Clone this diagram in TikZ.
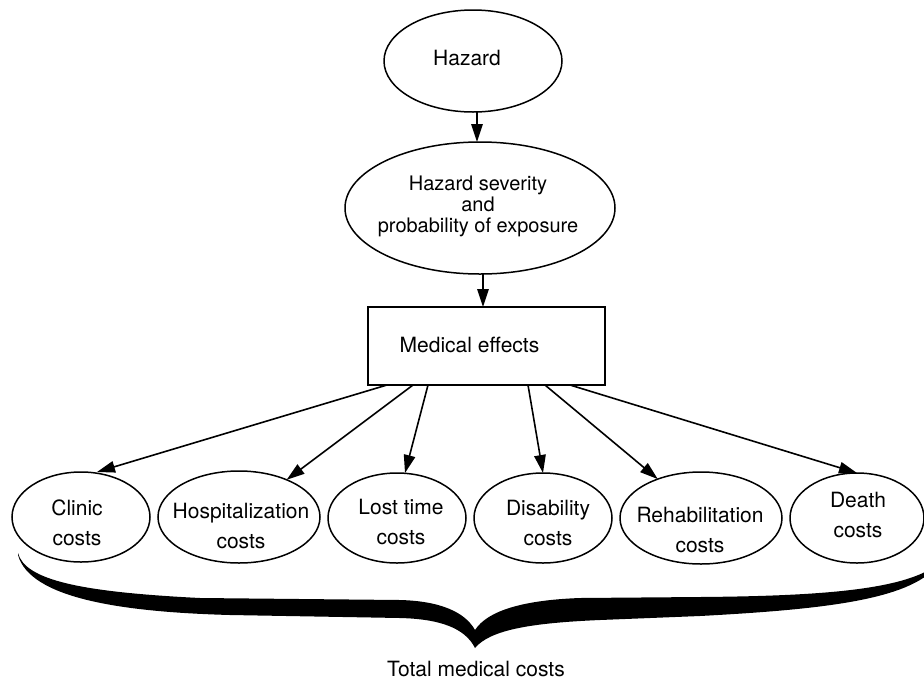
\documentclass[tikz,border=0pt]{standalone}
\usepackage{fontspec}
\setmainfont{TeX Gyre Heros}
\usetikzlibrary{arrows.meta,shapes.geometric}
\begin{document}
\begin{tikzpicture}[x=1pt,y=-1pt,
  oval/.style={draw, ellipse, line width=1.5pt, inner sep=0pt, outer sep=0pt},
  lbl/.style={align=center, inner sep=0pt, font=\fontsize{21}{30.5}\selectfont},
  conn/.style={line width=1.6pt, -{Triangle[length=18pt,width=11.5pt]}},
  costsmall/.style={oval, minimum width=138pt, minimum height=90pt},
  costwide/.style={oval, minimum width=162pt, minimum height=92pt}
]
\useasboundingbox (0,0) rectangle (924,681);

% top chain
\node[oval, minimum width=178pt, minimum height=102pt] (hazard) at (473,61) {};
\node[lbl] (hazardT) at (467,57.5) {Hazard};
\node[oval, minimum width=270pt, minimum height=132pt] (sev) at (480,208) {};
\node[lbl, font=\fontsize{20}{21}\selectfont] (sevT) at (478,206) {Hazard severity\\and\\probability of exposure};
\node[draw, line width=2pt, minimum width=237pt, minimum height=78pt, inner sep=0pt, outer sep=0pt] (box) at (486.5,346) {};
\node[lbl] (boxT) at (469.5,344.5) {Medical effects};

% cost ellipses
\node[costsmall] (clinic) at (81,517) {};
\node[costwide]  (hosp)   at (239,517) {};
\node[costsmall] (lost)   at (397,518) {};
\node[costsmall] (disab)  at (543,518) {};
\node[costwide]  (rehab)  at (701,518) {};
\node[costsmall, minimum width=134pt] (death) at (857,518) {};

\node[lbl] (clinicT) at (77,523) {Clinic\\costs};
\node[lbl] (hospT)   at (241,526) {Hospitalization\\costs};
\node[lbl] (lostT)   at (401,522) {Lost time\\costs};
\node[lbl] (disabT)  at (548,523) {Disability\\costs};
\node[lbl] (rehabT)  at (700,530) {Rehabilitation\\costs};
\node[lbl] (deathT)  at (858,515) {Death\\costs};

% connectors
\draw[conn] ([xshift=4pt]hazard.south) -- ([xshift=4pt]hazard.south |- sev.north);
\draw[conn] ([xshift=3pt]sev.south) -- ([xshift=3pt]sev.south |- box.north);
\draw[conn] ([xshift=-99.5pt]box.south) -- ([xshift=16pt]clinic.north);
\draw[conn] ([xshift=-73.5pt]box.south) -- (hosp.38);
\draw[conn] ([xshift=-58.5pt]box.south) -- ([xshift=8pt]lost.north);
\draw[conn] ([xshift=41.5pt]box.south) -- (disab.north);
\draw[conn] ([xshift=58.5pt]box.south) -- (rehab.138);
\draw[conn] ([xshift=83.5pt]box.south) -- (death.north);

% brace
\begin{scope}
\clip (0,0) rectangle (924,681);
\fill (18,553) .. controls (25,580) and (80,592) .. (200,598) -- (400,600)
  .. controls (440,601) and (465,612) .. (475,630)
  .. controls (488,610) and (525,600) .. (580,598) -- (700,597)
  .. controls (820,596) and (910,590) .. (940,562)
  .. controls (915,599) and (830,609) .. (700,616) -- (600,620)
  .. controls (530,623) and (490,630) .. (475,648)
  .. controls (465,628) and (440,619) .. (400,618) -- (230,615)
  .. controls (120,612) and (30,598) .. (18,555) -- cycle;
\end{scope}

\node[lbl] (total) at (476,668.5) {Total medical costs};
\end{tikzpicture}
\end{document}
